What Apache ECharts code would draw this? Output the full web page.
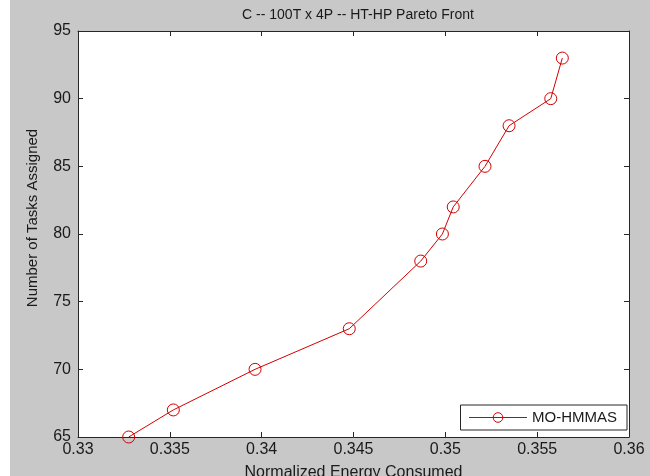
<!DOCTYPE html>
<html><head><meta charset="utf-8">
<script src="https://cdn.jsdelivr.net/npm/echarts@6/dist/echarts.min.js"></script>
<style>html,body{margin:0;padding:0;background:#c8c8c8;}#c{width:650px;height:476px;}</style>
</head><body><div id="c"></div>
<script>
const energy = [0.33276, 0.33519, 0.33964, 0.34477, 0.34866, 0.34984, 0.35043, 0.35216, 0.35347, 0.35574, 0.35637];
const tasks = [65, 67, 70, 73, 78, 80, 82, 85, 88, 90, 93];
const seriesName = 'MO-HMMAS';
const titleText = 'C -- 100T x 4P -- HT-HP Pareto Front';
const xTitle = 'Normalized Energy Consumed';
const yTitle = 'Number of Tasks Assigned';

const font = 'Liberation Sans, Arial, sans-serif';
const red = '#d40000';
const txt = '#1a1a1a';
const chart = echarts.init(document.getElementById('c'));
const axisLine = {show: true, lineStyle: {color: '#262626', width: 1}};
const tick = {show: true, inside: true, length: 5, lineStyle: {color: '#262626'}};
chart.setOption({
  backgroundColor: '#c8c8c8',
  animation: false,
  graphic: [
    {type: 'rect', left: 0, top: 0, shape: {width: 10, height: 476}, style: {fill: '#ffffff'}, z: -1},
    {type: 'text', x: 33, y: 218, rotation: Math.PI / 2,
      style: {text: yTitle, font: '15px ' + font, fill: txt, align: 'center', verticalAlign: 'middle'}}
  ],
  title: {text: titleText, left: 353, top: 3, textAlign: 'center',
    textStyle: {fontFamily: font, fontSize: 14, fontWeight: 'normal', color: txt}},
  grid: {left: 78, right: 21, top: 31, bottom: 39, show: true, backgroundColor: '#ffffff', borderWidth: 0,
    containLabel: false, outerBoundsMode: 'none'},
  legend: {data: [seriesName], right: 23, bottom: 46, orient: 'vertical',
    backgroundColor: '#ffffff', borderColor: '#262626', borderWidth: 1, borderRadius: 0,
    padding: [5, 10, 5, 8], itemWidth: 58, itemHeight: 12, itemGap: 0,
    lineStyle: {width: 1}, itemStyle: {borderWidth: 1},
    textStyle: {fontFamily: font, fontSize: 15, color: txt}},
  xAxis: [{
    type: 'value', min: 0.33, max: 0.36, interval: 0.005, position: 'bottom',
    name: xTitle, nameLocation: 'middle', nameGap: 28,
    nameTextStyle: {fontFamily: font, fontSize: 16, color: txt},
    axisLine: axisLine, axisTick: tick, splitLine: {show: false},
    axisLabel: {fontFamily: font, fontSize: 16, color: txt, margin: 5,
      formatter: v => String(parseFloat(v.toFixed(3)))}
  }, {
    type: 'value', min: 0.33, max: 0.36, interval: 0.005, position: 'top',
    axisLine: axisLine, axisTick: tick, axisLabel: {show: false}, splitLine: {show: false}
  }],
  yAxis: [{
    type: 'value', min: 65, max: 95, interval: 5, position: 'left',
    axisLine: axisLine, axisTick: tick, splitLine: {show: false},
    axisLabel: {fontFamily: font, fontSize: 16, color: txt, margin: 7}
  }, {
    type: 'value', min: 65, max: 95, interval: 5, position: 'right',
    axisLine: axisLine, axisTick: tick, axisLabel: {show: false}, splitLine: {show: false}
  }],
  series: [{
    name: seriesName, type: 'line',
    data: energy.map((x, i) => [x, tasks[i]]),
    symbol: 'circle', symbolSize: 12,
    lineStyle: {color: red, width: 1},
    itemStyle: {color: 'rgba(255,255,255,0)', borderColor: red, borderWidth: 1},
    clip: false
  }]
});
</script></body></html>
